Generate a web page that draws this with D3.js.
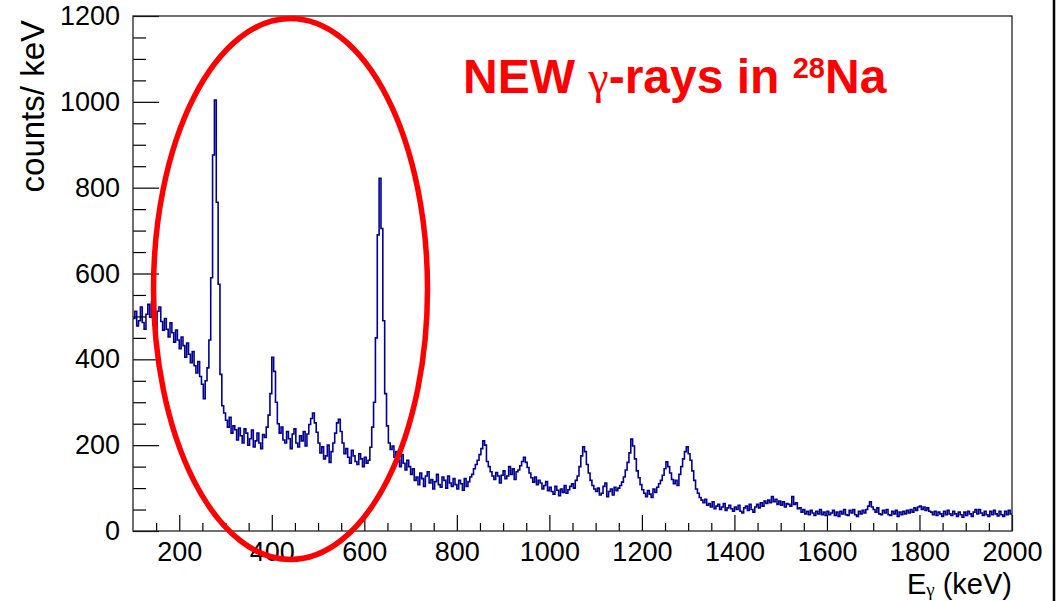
<!DOCTYPE html>
<html>
<head>
<meta charset="utf-8">
<script src="https://cdn.jsdelivr.net/npm/d3@7"></script>
<style>
  html, body { margin: 0; padding: 0; background: #ffffff; }
  svg { display: block; }
  text { font-family: "Liberation Sans", Arial, Helvetica, sans-serif; }
</style>
</head>
<body>
<svg id="chart" width="1062" height="601"></svg>
<script>
// Gamma-ray energy spectrum, 4 keV bins from 100 to 2000 keV
const binStart = 100;
const binWidth = 4;
const counts = [
  // 100 - 196 keV
  495, 512, 478, 490, 522, 486, 470, 505, 528, 498, 535, 480, 472, 512, 522, 488, 468, 495, 470, 452, 485, 462, 440, 468, 445,
  // 200 - 296 keV
  425, 452, 432, 405, 438, 412, 392, 418, 385, 368, 395, 360, 342, 308, 350, 380, 445, 590, 876, 1004, 766, 575, 365, 292, 275,
  // 300 - 396 keV
  258, 242, 265, 228, 245, 236, 212, 240, 222, 205, 238, 228, 200, 215, 235, 196, 210, 228, 205, 192, 225, 218, 242, 270, 320,
  // 400 - 496 keV
  405, 372, 300, 250, 228, 242, 212, 205, 232, 215, 192, 226, 238, 205, 196, 222, 210, 232, 198, 226, 248, 262, 275, 252, 230,
  // 500 - 596 keV
  205, 182, 196, 168, 175, 200, 160, 185, 205, 228, 252, 260, 232, 205, 180, 192, 172, 158, 188, 175, 162, 155, 180, 168, 150,
  // 600 - 696 keV
  172, 158, 165, 195, 242, 300, 450, 690, 822, 705, 490, 320, 245, 205, 190, 198, 172, 185, 165, 150, 178, 158, 142, 165, 150,
  // 700 - 796 keV
  132, 145, 118, 126, 108, 135, 122, 104, 128, 138, 112, 120, 98, 115, 132, 108, 102, 126, 118, 100, 128, 112, 104, 122, 108,
  // 800 - 896 keV
  98, 118, 110, 95, 122, 104, 115, 126, 132, 145, 155, 165, 178, 192, 210, 200, 162, 150, 138, 128, 120, 136, 128, 112, 130,
  // 900 - 996 keV
  140, 122, 128, 150, 132, 145, 120, 138, 142, 152, 162, 172, 160, 148, 135, 124, 114, 126, 108, 118, 112, 98, 106, 115, 94,
  // 1000 - 1096 keV
  102, 92, 86, 104, 95, 82, 98, 90, 106, 88, 96, 104, 110, 100, 118, 128, 150, 175, 196, 185, 155, 135, 118, 106, 98,
  // 1100 - 1196 keV
  92, 100, 84, 88, 104, 112, 80, 92, 98, 84, 102, 94, 100, 106, 114, 126, 142, 160, 182, 214, 198, 168, 140, 124, 108,
  // 1200 - 1296 keV
  96, 88, 80, 94, 86, 78, 98, 90, 102, 110, 118, 130, 145, 161, 150, 135, 120, 110, 118, 106, 132, 150, 168, 185, 196,
  // 1300 - 1396 keV
  180, 165, 140, 118, 98, 88, 78, 72, 66, 74, 60, 64, 56, 68, 52, 58, 62, 50, 56, 64, 48, 54, 60, 52, 46,
  // 1400 - 1496 keV
  56, 50, 60, 46, 42, 54, 58, 48, 62, 50, 44, 56, 62, 54, 66, 58, 70, 64, 72, 66, 80, 68, 74, 62, 70,
  // 1500 - 1596 keV
  60, 68, 56, 64, 62, 58, 80, 62, 66, 52, 54, 44, 50, 40, 46, 38, 48, 42, 36, 46, 40, 50, 38, 44, 36,
  // 1600 - 1696 keV
  46, 38, 42, 48, 36, 44, 34, 46, 40, 50, 38, 36, 48, 42, 50, 38, 34, 46, 40, 48, 42, 50, 58, 68, 56,
  // 1700 - 1796 keV
  50, 44, 54, 40, 38, 48, 42, 50, 38, 36, 46, 40, 48, 34, 44, 38, 46, 40, 48, 42, 50, 44, 54, 48, 56,
  // 1800 - 1896 keV
  58, 50, 56, 48, 54, 46, 44, 38, 46, 36, 44, 40, 34, 46, 38, 48, 40, 36, 46, 40, 34, 44, 38, 32, 44,
  // 1900 - 1996 keV
  36, 46, 40, 34, 44, 50, 40, 50, 42, 36, 46, 38, 34, 46, 38, 48, 40, 35, 46, 38, 34, 46, 38, 48, 40
];

const xMajorTicks = [200, 400, 600, 800, 1000, 1200, 1400, 1600, 1800, 2000];
const yMajorTicks = [0, 200, 400, 600, 800, 1000, 1200];
const xDomain = [100, 2000];
const yDomain = [0, 1200];

const titleParts = { lead: "NEW ", gamma: "\u03B3", mid: "-rays in ", mass: "28", element: "Na" };
const yTitle = "counts/ keV";

// ---- layout ----
const frame = { left: 133, right: 1012, top: 16, bottom: 531 };
const svg = d3.select("#chart");

const x = d3.scaleLinear().domain(xDomain).range([frame.left, frame.right]);
const y = d3.scaleLinear().domain(yDomain).range([frame.bottom, frame.top]);

// minor ticks every 50
const xMinorTicks = d3.range(xDomain[0] + 50, xDomain[1], 50).filter(v => v % 200 !== 0);
const yMinorTicks = d3.range(50, yDomain[1], 50).filter(v => v % 200 !== 0);

// ---- spectrum as a step histogram ----
const points = counts.map((c, i) => [binStart + i * binWidth, c]);
points.push([binStart + counts.length * binWidth, counts[counts.length - 1]]);

const line = d3.line()
  .x(d => x(d[0]))
  .y(d => y(d[1]))
  .curve(d3.curveStepAfter);

svg.append("path")
  .datum(points)
  .attr("fill", "none")
  .attr("stroke", "#000094")
  .attr("stroke-width", 1.6)
  .attr("d", line);

// ---- axes ----
const fontSize = 27;

const yAxisMajor = d3.axisLeft(y).tickValues(yMajorTicks).tickSize(-26).tickSizeOuter(0).tickPadding(13).tickFormat(d3.format("d"));
const yAxisMinor = d3.axisLeft(y).tickValues(yMinorTicks).tickSize(-13).tickSizeOuter(0).tickFormat("");
const xAxisMajor = d3.axisBottom(x).tickValues(xMajorTicks).tickSize(-16).tickSizeOuter(0).tickPadding(11).tickFormat(d3.format("d"));
const xAxisMinor = d3.axisBottom(x).tickValues(xMinorTicks).tickSize(-8).tickSizeOuter(0).tickFormat("");

function styleAxis(g) {
  g.select(".domain").remove();
  g.selectAll(".tick line").attr("stroke", "#000").attr("stroke-width", 1.2);
  g.selectAll(".tick text").attr("fill", "#000").style("font-size", fontSize + "px")
    .style("font-family", "'Liberation Sans', Arial, sans-serif");
}

svg.append("g").attr("transform", `translate(${frame.left},0)`).call(yAxisMajor).call(styleAxis);
svg.append("g").attr("transform", `translate(${frame.left},0)`).call(yAxisMinor).call(styleAxis);
svg.append("g").attr("transform", `translate(0,${frame.bottom})`).call(xAxisMajor).call(styleAxis);
svg.append("g").attr("transform", `translate(0,${frame.bottom})`).call(xAxisMinor).call(styleAxis);

// frame
svg.append("rect")
  .attr("x", frame.left).attr("y", frame.top)
  .attr("width", frame.right - frame.left).attr("height", frame.bottom - frame.top)
  .attr("fill", "none").attr("stroke", "#222").attr("stroke-width", 1.3);

// ---- axis titles ----
svg.append("text")
  .attr("transform", `translate(44,${frame.top + 4}) rotate(-90)`)
  .attr("text-anchor", "end")
  .style("font-size", "33px")
  .attr("fill", "#000")
  .text(yTitle);

const xt = svg.append("text")
  .attr("x", frame.right).attr("y", 594)
  .attr("text-anchor", "end")
  .style("font-size", "29px")
  .attr("fill", "#000");
xt.append("tspan").text("E");
xt.append("tspan").attr("dy", 2).style("font-size", "19px").style("font-family", "'Liberation Serif', serif").text("\u03B3");
xt.append("tspan").attr("dy", -2).text(" (keV)");

// ---- highlight ellipse around the low-energy lines ----
svg.append("ellipse")
  .attr("cx", 290.5).attr("cy", 289)
  .attr("rx", 137).attr("ry", 270.5)
  .attr("fill", "none")
  .attr("stroke", "#ff0000")
  .attr("stroke-width", 5.5);

// ---- annotation ----
const title = svg.append("text")
  .attr("x", 463).attr("y", 93)
  .attr("fill", "#ff0000")
  .style("font-size", "48px")
  .style("font-weight", "bold");
title.append("tspan").text(titleParts.lead);
title.append("tspan").style("font-family", "'Liberation Serif', 'DejaVu Serif', serif").style("font-weight", "normal").style("font-size", "46px").text(titleParts.gamma);
title.append("tspan").text(titleParts.mid);
title.append("tspan").attr("dy", -15).style("font-size", "29px").text(titleParts.mass);
title.append("tspan").attr("dy", 15).text(titleParts.element);

// slide border on the right
svg.append("line")
  .attr("x1", 1054).attr("x2", 1054).attr("y1", 0).attr("y2", 601)
  .attr("stroke", "#000").attr("stroke-width", 2.5);
</script>
</body>
</html>
